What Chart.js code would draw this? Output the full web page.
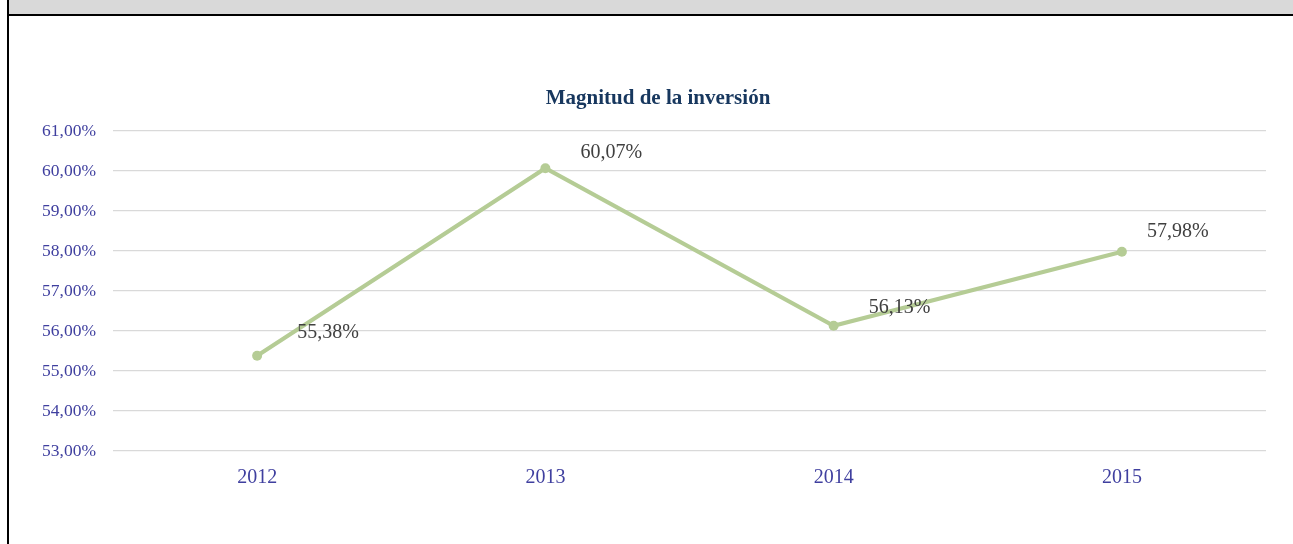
<!DOCTYPE html>
<html>
<head>
<meta charset="utf-8">
<script src="https://cdn.jsdelivr.net/npm/chart.js@4.4.1/dist/chart.umd.min.js"></script>
<style>
  html, body { margin: 0; padding: 0; background: #ffffff; }
  #wrap { position: relative; width: 1293px; height: 544px; overflow: hidden; }
  #c { position: absolute; left: 0; top: 0; }
  .bar { position: absolute; left: 9px; top: 0; width: 1284px; height: 14px; background: #d9d9d9; }
  .hline { position: absolute; left: 7px; top: 14px; width: 1286px; height: 2px; background: #000; }
  .vline { position: absolute; left: 7px; top: 0; width: 2px; height: 544px; background: #000; }
</style>
</head>
<body>
<div id="wrap">
  <canvas id="c" width="1293" height="544"></canvas>
  <div class="bar"></div>
  <div class="hline"></div>
  <div class="vline"></div>
</div>
<script>
const chartTitle = 'Magnitud de la inversión';
const categories = ['2012', '2013', '2014', '2015'];
const values = [55.38, 60.07, 56.13, 57.98];
const yMin = 53, yMax = 61, yStep = 1;

// label offsets (style only): relative to each point
const labelDx = [40, 35, 35, 25];
const labelDy = [-18, -10, -13, -15];

const fmt = v => v.toFixed(2).replace('.', ',') + '%';

const labelPlugin = {
  id: 'pointLabels',
  afterDatasetsDraw(chart) {
    const ctx = chart.ctx;
    const meta = chart.getDatasetMeta(0);
    ctx.save();
    ctx.font = '20px "Liberation Serif", "Times New Roman", serif';
    ctx.fillStyle = '#404040';
    ctx.textAlign = 'left';
    ctx.textBaseline = 'alphabetic';
    meta.data.forEach((pt, i) => {
      ctx.fillText(fmt(values[i]), pt.x + labelDx[i], pt.y + labelDy[i]);
    });
    ctx.restore();
  }
};

const titlePlugin = {
  id: 'customTitle',
  afterDraw(chart) {
    const ctx = chart.ctx;
    ctx.save();
    ctx.font = 'bold 21px "Liberation Serif", "Times New Roman", serif';
    ctx.fillStyle = '#17375e';
    ctx.textAlign = 'center';
    ctx.textBaseline = 'alphabetic';
    ctx.fillText(chartTitle, 658, 104);
    ctx.restore();
  }
};

new Chart(document.getElementById('c'), {
  type: 'line',
  data: {
    labels: categories,
    datasets: [{
      data: values,
      borderColor: '#b5cc95',
      backgroundColor: '#b5cc95',
      borderWidth: 4,
      pointRadius: 5,
      pointHoverRadius: 5,
      pointBackgroundColor: '#b5cc95',
      pointBorderWidth: 0,
      tension: 0,
      fill: false
    }]
  },
  options: {
    responsive: false,
    animation: false,
    devicePixelRatio: 1,
    layout: { padding: { top: 131, right: 27, bottom: 0, left: 0 } },
    plugins: {
      legend: { display: false },
      title: { display: false },
      tooltip: { enabled: false }
    },
    scales: {
      x: {
        type: 'category',
        offset: true,
        grid: { display: false, drawTicks: false },
        border: { display: false },
        ticks: {
          color: '#3f3f9f',
          font: { family: '"Liberation Serif", "Times New Roman", serif', size: 20 },
          padding: 15,
          maxRotation: 0
        },
        afterFit(scale) { scale.height = 93; }
      },
      y: {
        min: yMin,
        max: yMax,
        grid: { color: '#d9d9d9', lineWidth: 1.3, drawTicks: false },
        border: { display: false },
        ticks: {
          stepSize: yStep,
          color: '#3f3f9f',
          font: { family: '"Liberation Serif", "Times New Roman", serif', size: 17.5 },
          padding: 17,
          callback: v => fmt(v)
        },
        afterFit(scale) { scale.width = 113; }
      }
    }
  },
  plugins: [labelPlugin, titlePlugin]
});
</script>
</body>
</html>
